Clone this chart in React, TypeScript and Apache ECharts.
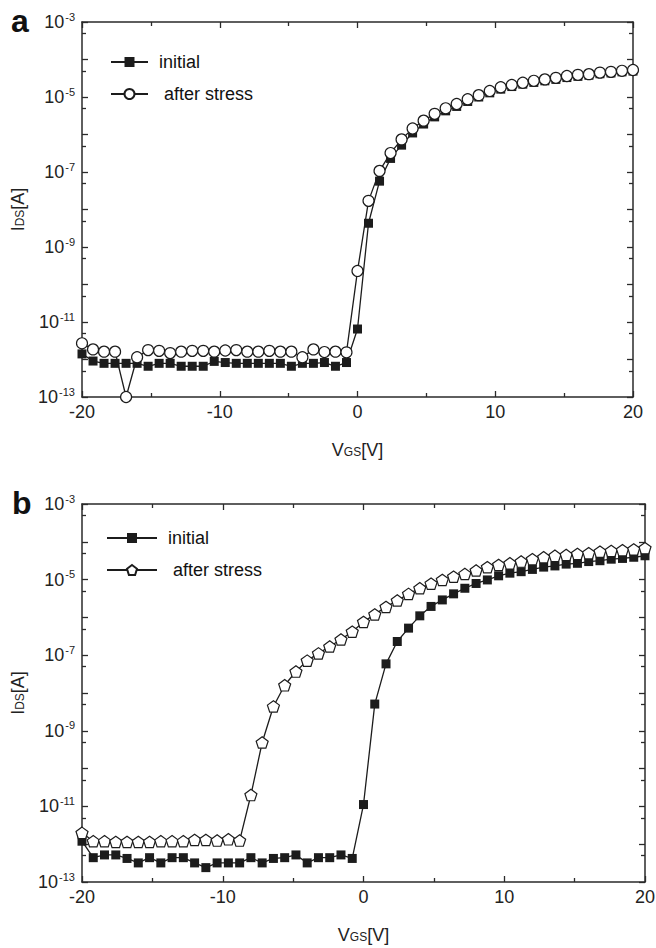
import React, { useEffect, useRef } from 'react';
import * as echarts from 'echarts';

// Gate voltage sweep (V)
const VGS = [
  -20, -19.2, -18.4, -17.6, -16.8, -16, -15.2, -14.4, -13.6, -12.8, -12, -11.2, -10.4, -9.6, -8.8, -8, -7.2,
  -6.4, -5.6, -4.8, -4, -3.2, -2.4, -1.6, -0.8, 0, 0.8, 1.6, 2.4, 3.2, 4, 4.8, 5.6, 6.4, 7.2, 8, 8.8, 9.6,
  10.4, 11.2, 12, 12.8, 13.6, 14.4, 15.2, 16, 16.8, 17.6, 18.4, 19.2, 20,
];

// Panel a: drain current (A)
const initialA = [
  1.41e-12, 9.1e-13, 7.9e-13, 7.9e-13, 7.9e-13, 7.9e-13, 6.6e-13, 7.9e-13, 7.9e-13, 6.6e-13, 6.6e-13, 6.6e-13,
  8.9e-13, 8.3e-13, 7.9e-13, 7.9e-13, 7.9e-13, 7.9e-13, 7.9e-13, 6.6e-13, 7.9e-13, 7.9e-13, 8.3e-13, 6.6e-13,
  8.3e-13, 6.5e-12, 4.3e-9, 5.7e-8, 2.3e-7, 5.2e-7, 1.1e-6, 1.9e-6, 2.95e-6, 4.27e-6, 5.6e-6, 7.6e-6, 1.0e-5,
  1.29e-5, 1.62e-5, 1.9e-5, 2.2e-5, 2.45e-5, 2.7e-5, 2.95e-5, 3.3e-5, 3.55e-5, 3.8e-5, 4.17e-5, 4.37e-5,
  4.68e-5, 4.9e-5,
];
const stressA = [
  2.7e-12, 1.86e-12, 1.62e-12, 1.62e-12, 1e-13, 1.15e-12, 1.78e-12, 1.7e-12, 1.48e-12, 1.62e-12, 1.7e-12,
  1.7e-12, 1.62e-12, 1.74e-12, 1.78e-12, 1.62e-12, 1.62e-12, 1.7e-12, 1.62e-12, 1.62e-12, 1.15e-12, 1.86e-12,
  1.58e-12, 1.62e-12, 1.55e-12, 2.3e-10, 1.7e-8, 1.07e-7, 3.2e-7, 7.4e-7, 1.45e-6, 2.34e-6, 3.55e-6, 5.0e-6,
  6.5e-6, 8.7e-6, 1.12e-5, 1.45e-5, 1.82e-5, 2.1e-5, 2.4e-5, 2.7e-5, 2.95e-5, 3.24e-5, 3.63e-5, 3.9e-5,
  4.07e-5, 4.47e-5, 4.68e-5, 5.0e-5, 5.25e-5,
];

// Panel b: drain current (A)
const initialB = [
  1.2e-12, 4.4e-13, 5.2e-13, 5.2e-13, 4.2e-13, 3.2e-13, 4.4e-13, 3.2e-13, 4.4e-13, 4.4e-13, 3.2e-13, 2.4e-13,
  3.2e-13, 3.2e-13, 3.2e-13, 4.4e-13, 3.2e-13, 4.2e-13, 4.4e-13, 5.2e-13, 3.2e-13, 4.4e-13, 4.4e-13, 5.2e-13,
  4.2e-13, 1.12e-11, 5.1e-9, 5.9e-8, 2.3e-7, 5.2e-7, 1.1e-6, 1.95e-6, 2.9e-6, 4.2e-6, 5.9e-6, 7.9e-6, 9.8e-6,
  1.26e-5, 1.48e-5, 1.62e-5, 1.86e-5, 2.14e-5, 2.3e-5, 2.57e-5, 2.7e-5, 3.0e-5, 3.16e-5, 3.47e-5, 3.63e-5,
  3.9e-5, 4.27e-5,
];
const stressB = [
  2.0e-12, 1.2e-12, 1.2e-12, 1.15e-12, 1.15e-12, 1.15e-12, 1.15e-12, 1.2e-12, 1.2e-12, 1.2e-12, 1.3e-12,
  1.3e-12, 1.25e-12, 1.35e-12, 1.25e-12, 2.0e-11, 4.9e-10, 4.4e-9, 1.6e-8, 3.7e-8, 7.2e-8, 1.12e-7, 1.7e-7,
  2.6e-7, 4.2e-7, 7.6e-7, 1.2e-6, 1.9e-6, 2.8e-6, 4.2e-6, 5.9e-6, 7.8e-6, 9.8e-6, 1.2e-5, 1.41e-5, 1.74e-5,
  2.14e-5, 2.45e-5, 2.7e-5, 3.0e-5, 3.47e-5, 3.9e-5, 4.27e-5, 4.47e-5, 4.8e-5, 5.0e-5, 5.5e-5, 5.75e-5, 6.0e-5,
  6.3e-5, 6.8e-5,
];

// Axis ranges / ticks
const X_TICKS = { min: -20, max: 20, interval: 10 };
const Y_EXP = { min: -13, max: -3, interval: 1 };

const FONT = "'Liberation Sans', Arial, Helvetica, sans-serif";
const INK = '#1c1c1c';
const AXIS = '#2a2a2a';
const PENTAGON = 'path://M0,-1L0.951,-0.309L0.588,0.809L-0.588,0.809L-0.951,-0.309Z';

const minorExp: number[] = [];
for (let n = Y_EXP.min; n < Y_EXP.max; n++) minorExp.push(n + Math.log10(5));

const yLabel = (v: number) => {
  const r = Math.round(v);
  return (r - Y_EXP.min) % 2 === 0 ? `{m|10}{s|${r}}` : '';
};

const lineAxis = { show: true, onZero: false, lineStyle: { color: AXIS, width: 1.5 } };

function makeXAxes(grid: number) {
  const base = {
    type: 'value',
    gridIndex: grid,
    min: X_TICKS.min,
    max: X_TICKS.max,
    interval: X_TICKS.interval,
    axisLine: lineAxis,
    axisTick: { show: true, inside: true, length: 6, lineStyle: { color: AXIS, width: 1.3 } },
    minorTick: { show: true, splitNumber: 2, length: 4, lineStyle: { color: AXIS, width: 1.3 } },
    splitLine: { show: false },
    minorSplitLine: { show: false },
  };
  return [
    {
      ...base,
      position: 'bottom',
      axisLabel: { show: true, margin: 6, fontSize: 18, fontFamily: FONT, color: '#222' },
      name: '{m|V}{s|GS}{m|[V]}',
      nameLocation: 'middle',
      nameGap: 40,
      nameTextStyle: {
        fontFamily: FONT,
        color: '#222',
        rich: {
          m: { fontSize: 18, fontFamily: FONT, color: '#222', lineHeight: 22, verticalAlign: 'bottom' },
          s: { fontSize: 12, fontFamily: FONT, color: '#222', lineHeight: 22, verticalAlign: 'bottom', padding: [0, 0, 1, 0] },
        },
      },
    },
    { ...base, position: 'top', axisLabel: { show: false } },
  ];
}

function makeYAxes(grid: number) {
  const base = {
    type: 'value',
    gridIndex: grid,
    min: Y_EXP.min,
    max: Y_EXP.max,
    interval: Y_EXP.interval,
    splitLine: { show: false },
  };
  const major = {
    ...base,
    axisLine: lineAxis,
    axisTick: { show: true, inside: true, length: 6, lineStyle: { color: AXIS, width: 1.3 } },
  };
  const minor = {
    ...base,
    axisLine: { show: false, onZero: false },
    axisLabel: { show: false },
    axisTick: { show: true, inside: true, length: 4, customValues: minorExp, lineStyle: { color: AXIS, width: 1.3 } },
  };
  return [
    {
      ...major,
      position: 'left',
      axisLabel: {
        show: true,
        margin: 7,
        formatter: yLabel,
        rich: {
          m: { fontSize: 18, fontFamily: FONT, color: '#222', lineHeight: 22 },
          s: { fontSize: 11, fontFamily: FONT, color: '#222', lineHeight: 22, verticalAlign: 'top', padding: [0, 0, 0, 1] },
        },
      },
      name: '{m|I}{s|DS}{m|[A]}',
      nameLocation: 'middle',
      nameGap: 52,
      nameTextStyle: {
        fontFamily: FONT,
        color: '#222',
        rich: {
          m: { fontSize: 18, fontFamily: FONT, color: '#222', lineHeight: 22, verticalAlign: 'bottom' },
          s: { fontSize: 12, fontFamily: FONT, color: '#222', lineHeight: 22, verticalAlign: 'bottom', padding: [0, 0, 1, 0] },
        },
      },
    },
    { ...minor, position: 'left' },
    { ...major, position: 'right', axisLabel: { show: false } },
    { ...minor, position: 'right' },
  ];
}

function series(
  name: string,
  values: number[],
  xi: number,
  yi: number,
  symbol: string,
  size: number,
  filled: boolean
) {
  return {
    type: 'line',
    name,
    xAxisIndex: xi,
    yAxisIndex: yi,
    data: VGS.map((v, i) => [v, Math.log10(values[i])]),
    symbol,
    symbolSize: size,
    symbolKeepAspect: true,
    showAllSymbol: true,
    clip: false,
    silent: true,
    lineStyle: { color: INK, width: 1.3 },
    itemStyle: filled
      ? { color: INK, borderColor: INK, borderWidth: 0 }
      : { color: '#ffffff', borderColor: INK, borderWidth: 1.2 },
    emphasis: { disabled: true },
  };
}

const legendText = (n: string) => (n.trim() === 'after stress' ? ' ' + n.trim() : n.trim());

export default function App() {
  const ref = useRef<HTMLDivElement>(null);
  useEffect(() => {
    if (!ref.current) return;
    const chart = echarts.init(ref.current, undefined, { renderer: 'svg' });
    const option: any = {
      animation: false,
      backgroundColor: '#ffffff',
      grid: [
        { left: 82, top: 22, width: 551, height: 375, outerBoundsMode: 'none' },
        { left: 82, top: 504, width: 563, height: 378, outerBoundsMode: 'none' },
      ],
      xAxis: [...makeXAxes(0), ...makeXAxes(1)],
      yAxis: [...makeYAxes(0), ...makeYAxes(1)],
      legend: [
        {
          data: ['initial', 'after stress'],
          orient: 'vertical',
          left: 110,
          top: 52,
          padding: 0,
          itemWidth: 37,
          itemHeight: 12.5,
          itemGap: 12,
          selectedMode: false,
          formatter: legendText,
          textStyle: { fontSize: 18, fontFamily: FONT, color: '#111', lineHeight: 20, padding: [0, 0, 0, 6] },
        },
        {
          data: ['initial ', 'after stress '],
          orient: 'vertical',
          left: 106,
          top: 528,
          padding: 0,
          itemWidth: 50,
          itemHeight: 12.5,
          itemGap: 12,
          selectedMode: false,
          formatter: legendText,
          textStyle: { fontSize: 18, fontFamily: FONT, color: '#111', lineHeight: 20, padding: [0, 0, 0, 6] },
        },
      ],
      graphic: [
        { type: 'text', x: 11, y: 21, style: { text: 'a', font: `bold 32px ${FONT}`, fill: '#111', verticalAlign: 'middle' } },
        { type: 'text', x: 12, y: 503, style: { text: 'b', font: `bold 32px ${FONT}`, fill: '#111', verticalAlign: 'middle' } },
      ],
      series: [
        series('initial', initialA, 0, 0, 'rect', 9, true),
        series('after stress', stressA, 0, 0, 'circle', 11, false),
        series('initial ', initialB, 2, 4, 'rect', 9, true),
        series('after stress ', stressB, 2, 4, PENTAGON, 12, false),
      ],
    };
    chart.setOption(option);
    return () => chart.dispose();
  }, []);
  return (
    <div
      ref={ref}
      style={{ position: 'fixed', left: 0, top: 0, width: 656, height: 948, background: '#fff' }}
    />
  );
}
